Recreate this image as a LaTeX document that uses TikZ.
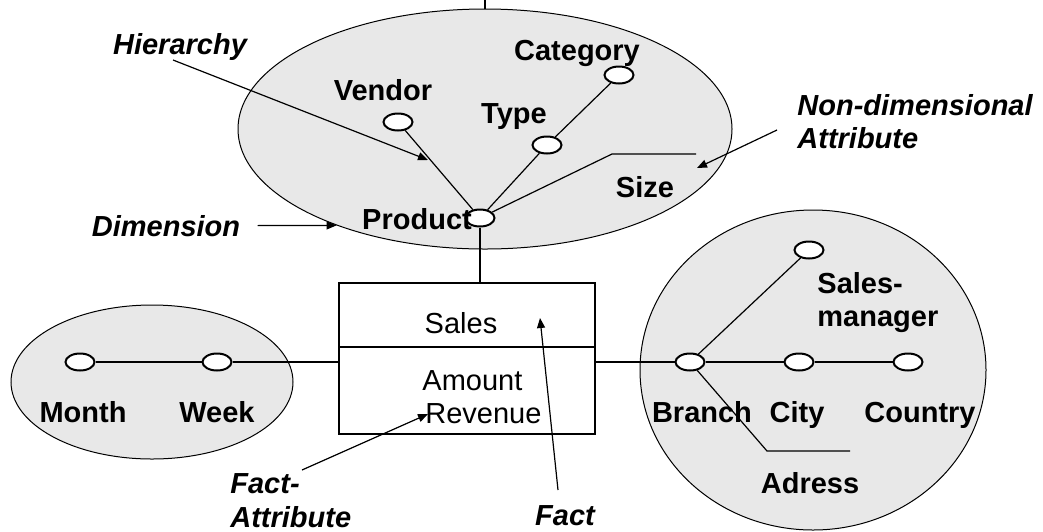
\documentclass[tikz,border=0pt]{standalone}
\usepackage{fontspec}
\setmainfont{Liberation Sans}
\usetikzlibrary{shapes.geometric,arrows.meta}

\definecolor{dimfill}{RGB}{232,232,232}

\tikzset{
    dim/.style={ellipse, draw, line width=0.5pt, fill=dimfill, inner sep=0pt},
    attr/.style={ellipse, draw, line width=1pt, fill=white, minimum width=14.5pt, minimum height=8.5pt, inner sep=0pt},
    lbl/.style={font=\fontsize{14.5}{16.5}\selectfont\bfseries, inner sep=0pt, align=left, anchor=base},
    txt/.style={font=\fontsize{14.5}{16.5}\selectfont, inner sep=0pt, align=left, anchor=base},
    note/.style={font=\fontsize{14.5}{16.5}\selectfont\bfseries\itshape, inner sep=0pt, align=left, anchor=base},
    link/.style={line width=0.6pt},
    pointer/.style={line width=0.6pt, -{Triangle[length=5pt,width=4pt]}},
}

\begin{document}
\begin{tikzpicture}[x=0.5pt, y=-0.5pt]
    \useasboundingbox (0,0) rectangle (1043,531);

    % dimensions
    \node[dim, minimum width=247pt, minimum height=120pt] (proddim) at (485,129) {};
    \node[dim, minimum width=141pt, minimum height=77pt] (timedim) at (152,382) {};
    \node[dim, minimum width=173pt, minimum height=160pt] (storedim) at (813,370) {};
    \draw[link] (485,0) -- (proddim.north);

    % fact
    \node[draw, line width=0.6pt, minimum width=128pt, minimum height=75.5pt, inner sep=0pt] (fact) at (467,358.5) {};
    \coordinate (divy) at (0,347);
    \draw[link] (fact.west |- divy) -- (fact.east |- divy);
    \node[txt] (sales) at (461,333) {Sales};
    \node[txt, anchor=base west] (amount) at (422,390) {Amount};
    \node[txt, anchor=base west] (revenue) at (425,423) {Revenue};

    % product hierarchy
    \node[attr] (product) at (480,218) {};
    \node[attr] (vendor) at (398,122) {};
    \node[attr] (type) at (547,145) {};
    \node[attr] (category) at (619,75) {};
    \coordinate (sizebend) at (612,154);
    \coordinate (sizeend) at (696,154);

    \node[lbl] (productlbl) at (417,229) {Product};
    \node[lbl] (vendorlbl) at (383,100) {Vendor};
    \node[lbl] (typelbl) at (514,123) {Type};
    \node[lbl] (categorylbl) at (577,60) {Category};
    \node[lbl] (sizelbl) at (645,197) {Size};

    \draw[link] (product) -- (vendor);
    \draw[link] (product) -- (type) -- (category);
    \draw[link] (product) -- (sizebend) -- (sizeend);
    \draw[link] (product) -- (product |- fact.north);

    % time hierarchy
    \node[attr] (month) at (80,362) {};
    \node[attr] (week) at (217,362) {};
    \node[lbl] (monthlbl) at (83,422) {Month};
    \node[lbl] (weeklbl) at (217,422) {Week};

    \draw[link] (month) -- (week) -- (week -| fact.west);

    % store hierarchy
    \node[attr] (branch) at (690,362) {};
    \node[attr] (city) at (799,362) {};
    \node[attr] (country) at (908,362) {};
    \node[attr] (manager) at (809,250) {};
    \coordinate (adrbend) at (767,451);
    \coordinate (adrend) at (850,451);

    \node[lbl] (branchlbl) at (702,422) {Branch};
    \node[lbl] (citylbl) at (797,422) {City};
    \node[lbl] (countrylbl) at (920,422) {Country};
    \node[lbl, anchor=base west] (managerlbl) at (817,293) {Sales-};
    \node[lbl, anchor=base west] (managerlbl2) at (817,326) {manager};
    \node[lbl] (adresslbl) at (810,493) {Adress};

    \draw[link] (branch -| fact.east) -- (branch) -- (city) -- (country);
    \draw[link] (branch) -- (manager);
    \draw[link] (branch) -- (adrbend) -- (adrend);

    % annotations
    \node[note] (hierarchy) at (180,54) {Hierarchy};
    \node[note] (dimension) at (166,236) {Dimension};
    \node[note, anchor=base west] (nondim) at (797,115) {Non-dimensional};
    \node[note, anchor=base west] (nondim2) at (797,148) {Attribute};
    \node[note, anchor=base west] (factattr) at (230,493) {Fact-};
    \node[note, anchor=base west] (factattr2) at (230,527) {Attribute};
    \node[note] (factnote) at (565,525) {Fact};

    \coordinate (hiertail) at (173,60);
    \coordinate (hiertip) at (428,160);
    \coordinate (ndtail) at (777,130);
    \coordinate (ndtip) at (697,168);
    \coordinate (fatail) at (302,470);
    \coordinate (fatip) at (428,414);
    \coordinate (facttail) at (558,490);
    \coordinate (facttip) at (540,318);

    \draw[pointer] (hiertail) -- (hiertip);
    \draw[pointer, shorten <=8.5pt] (dimension.east) -- (proddim.213);
    \draw[pointer] (ndtail) -- (ndtip);
    \draw[pointer] (fatail) -- (fatip);
    \draw[pointer] (facttail) -- (facttip);
\end{tikzpicture}
\end{document}
